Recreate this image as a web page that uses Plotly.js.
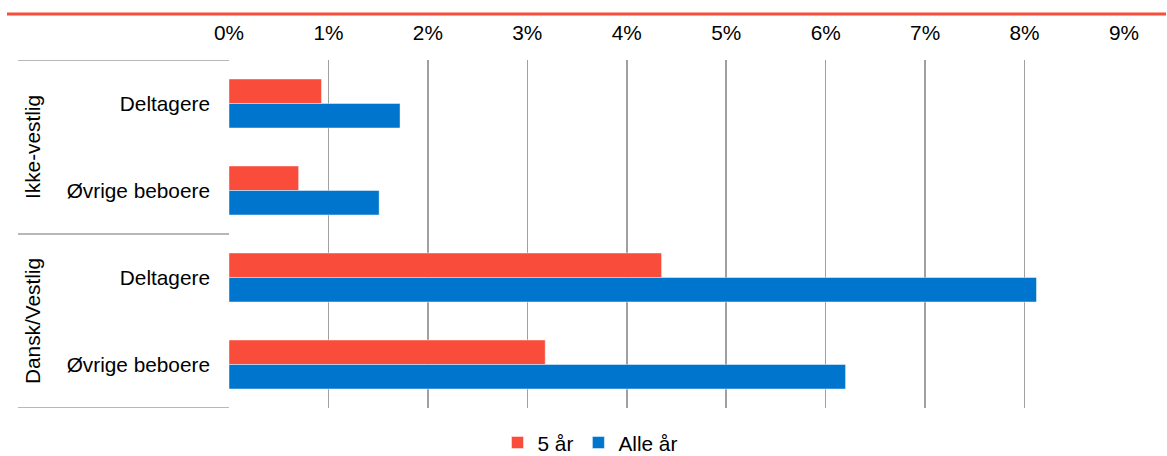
<!DOCTYPE html>
<html>
<head>
<meta charset="utf-8">
<script src="https://cdn.plot.ly/plotly-3.0.1.min.js"></script>
<style>html,body{margin:0;padding:0;background:#fff;}#chart{width:1167px;height:456px;}</style>
</head>
<body>
<div id="chart"></div>
<script>
const groups = ["Ikke-vestlig", "Dansk/Vestlig"];
const categories = ["Deltagere", "Øvrige beboere", "Deltagere", "Øvrige beboere"];
const categoryGroup = [0, 0, 1, 1];
const seriesNames = ["5 år", "Alle år"];
const fiveYears = [0.93, 0.70, 4.35, 3.18];
const allYears = [1.72, 1.51, 8.12, 6.20];
const xTickValues = [0, 1, 2, 3, 4, 5, 6, 7, 8, 9];
const xTickLabels = ["0%", "1%", "2%", "3%", "4%", "5%", "6%", "7%", "8%", "9%"];

const positions = categories.map((c, i) => i);
const font = {family: "Liberation Sans, Arial, sans-serif", size: 20.8, color: "#000"};

const traces = [
  {type: "bar", orientation: "h", name: seriesNames[0], x: fiveYears, y: positions,
   marker: {color: "#F94C3A", line: {color: "rgba(255,255,255,0.45)", width: 1}}},
  {type: "bar", orientation: "h", name: seriesNames[1], x: allYears, y: positions,
   marker: {color: "#0075CD", line: {color: "rgba(255,255,255,0.45)", width: 1}}}
];

const plotW = 1124 - 229, plotH = 408 - 60;
const px = v => (v - 229) / plotW;
const py = v => (408 - v) / plotH;

const shapes = [
  {type: "line", xref: "paper", yref: "paper", x0: px(7), x1: px(1166), y0: py(14), y1: py(14),
   line: {color: "#F94C3A", width: 3}},
];
[-0.5, 1.5, 3.5].forEach(yv => shapes.push({
  type: "line", xref: "paper", yref: "y", x0: px(18), x1: 0, y0: yv, y1: yv,
  line: {color: "#A0A0A0", width: 1.5}
}));

const annotations = groups.map((g, gi) => {
  const idx = positions.filter(i => categoryGroup[i] === gi);
  const mid = idx.reduce((a, b) => a + b, 0) / idx.length;
  return {text: g, xref: "paper", yref: "y", x: px(32), y: mid, textangle: -90,
          showarrow: false, font: font, xanchor: "center", yanchor: "middle"};
});

const layout = {
  width: 1167, height: 456,
  margin: {l: 229, r: 43, t: 60, b: 48, autoexpand: false},
  paper_bgcolor: "#fff", plot_bgcolor: "#fff",
  font: font,
  barmode: "group", bargap: 0.437, bargroupgap: 0,
  showlegend: true,
  legend: {orientation: "h", x: px(590), xanchor: "center", y: py(443), yanchor: "middle",
           font: font, traceorder: "normal", itemwidth: 30},
  xaxis: {side: "top", range: [0, 9], tickmode: "array", tickvals: xTickValues, ticktext: xTickLabels,
          showgrid: true, gridcolor: "#A0A0A0", gridwidth: 1.5, zeroline: false,
          showline: false, ticks: "", ticklabelstandoff: 15, fixedrange: true},
  yaxis: {tickmode: "array", tickvals: positions, ticktext: categories, range: [3.5, -0.5],
          showgrid: false, zeroline: false, showline: false, ticks: "",
          ticklabelstandoff: 18, fixedrange: true},
  shapes: shapes,
  annotations: annotations
};

Plotly.newPlot("chart", traces, layout, {displayModeBar: false, staticPlot: true});
</script>
</body>
</html>
